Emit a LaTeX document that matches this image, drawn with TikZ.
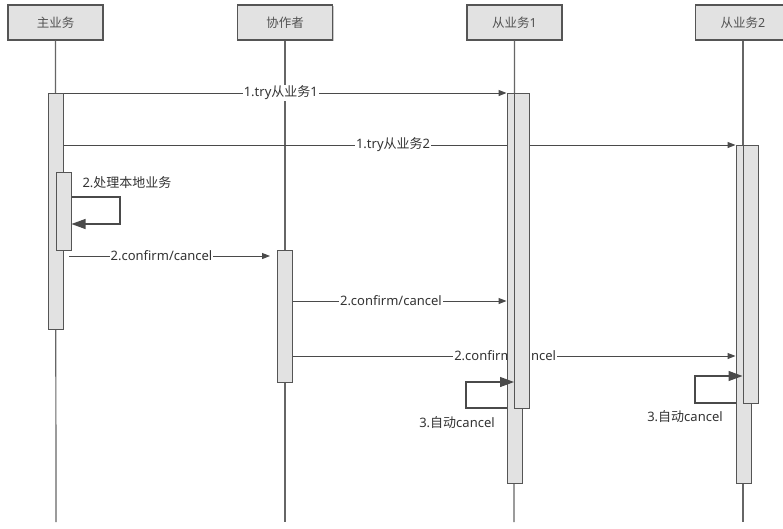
\documentclass[tikz,border=0pt]{standalone}
\usepackage{fontspec}
\setmainfont{Noto Sans}
\newfontfamily\cjk{Noto Sans CJK SC}
\usetikzlibrary{arrows.meta,shadows}
\definecolor{boxfill}{HTML}{E2E2E2}
\definecolor{boxline}{HTML}{555555}
\definecolor{linec}{HTML}{4A4A4A}
\definecolor{txt}{HTML}{333333}
\tikzset{
  head/.style={draw=boxline, line width=1.1pt, fill=boxfill, minimum width=95pt, minimum height=35pt,
    inner sep=0pt, font=\fontsize{12.5}{14}\selectfont, text=txt!85,
    drop shadow={shadow xshift=1.2pt, shadow yshift=-1.2pt, fill=black!35, opacity=0.6}},
  life/.style={draw=black!60, line width=1.2pt},
  act/.style={draw=boxline, line width=1pt, fill=boxfill, minimum width=15pt, inner sep=0pt, anchor=north},
  msg/.style={draw=linec, line width=1pt, -{Triangle[length=8pt,width=6pt]}},
  selfmsg/.style={draw=linec, line width=1.1pt, -{Triangle[length=14pt,width=10pt]}},
  lbl/.style={fill=white, inner sep=1pt, text=txt, font=\fontsize{13}{15}\selectfont},
  plain/.style={inner sep=0pt, text=txt, font=\fontsize{13}{15}\selectfont}
}
\begin{document}
\begin{tikzpicture}[x=1pt,y=-1pt]
\useasboundingbox (0,0) rectangle (783,528);
\fill[white] (0,0) rectangle (783,528);
% headers
\node[head] (h1) at (55.5,22.5) {\cjk 主业务};
\node[head] (h2) at (285,22.5) {\cjk 协作者};
\node[head] (h3) at (514.5,22.5) {{\cjk 从业务}1};
\node[head] (h4) at (743,22.5) {{\cjk 从业务}2};
% lifeline ends
\coordinate (e1) at (56,522);
\coordinate (e2) at (285,522);
\coordinate (e3) at (514,522);
\coordinate (e4) at (743,522);
\draw[life] (h1.south) -- (e1);
\draw[life] (h2.south) -- (e2);
\draw[life] (h3.south) -- (e3);
\draw[life] (h4.south) -- (e4);
% activation boxes (positions only, drawn later)
\path
  node[act, draw=none, fill=none, minimum height=236pt] (m1) at (56,93) {}
  node[act, draw=none, fill=none, minimum height=390pt] (s1a) at (514.5,93) {}
  node[act, draw=none, fill=none, minimum height=338pt] (s2a) at (743.5,145) {}
  node[act, draw=none, fill=none, minimum height=132pt] (c1) at (284.5,250) {};
% messages
\draw[msg] (m1.north east) -- node[lbl, pos=0.49] {1.try{\cjk 从业务}1} (s1a.north west);
\draw[msg] (m1.east |- s2a.north) -- node[lbl, pos=0.49] {1.try{\cjk 从业务}2} (s2a.north west);
\coordinate (t3) at (270,256);
\draw[msg] ([xshift=5pt]m1.east |- t3) -- node[lbl, pos=0.46] {2.confirm/cancel} (t3);
\coordinate (y4) at (0,301);
\draw[msg] (c1.east |- y4) -- node[lbl, pos=0.46] {2.confirm/cancel} (s1a.west |- y4);
\coordinate (y5) at (0,356);
\draw[msg] (c1.east |- y5) -- node[lbl, pos=0.48] {2.confirm/cancel} (s2a.west |- y5);
% activation boxes drawn
\node[act, minimum height=236pt] at (56,93) {};
\node[act, minimum height=78pt] (m2) at (63.5,172) {};
\node[act, minimum height=132pt] at (284.5,250) {};
\node[act, minimum height=390pt] at (514.5,93) {};
\node[act, minimum height=315pt] (s1b) at (522,93) {};
\node[act, minimum height=338pt] at (743.5,145) {};
\node[act, minimum height=258pt] (s2b) at (750.5,145) {};
% self messages
\draw[selfmsg] (m2.east |- 0,197) -- (120,197) -- (120,224) -- (m2.east |- 0,224);
\node[plain] (l1) at (127,183) {2.{\cjk 处理本地业务}};
\draw[selfmsg] (s1a.west |- 0,408) -- (466,408) -- (466,382) -- (s1b.west |- 0,382);
\node[plain] (l2) at (457,423) {3.{\cjk 自动}cancel};
\draw[selfmsg] (s2a.west |- 0,403) -- (695,403) -- (695,376) -- (s2b.west |- 0,376);
\node[plain] (l3) at (685,417) {3.{\cjk 自动}cancel};
\end{tikzpicture}
\end{document}
